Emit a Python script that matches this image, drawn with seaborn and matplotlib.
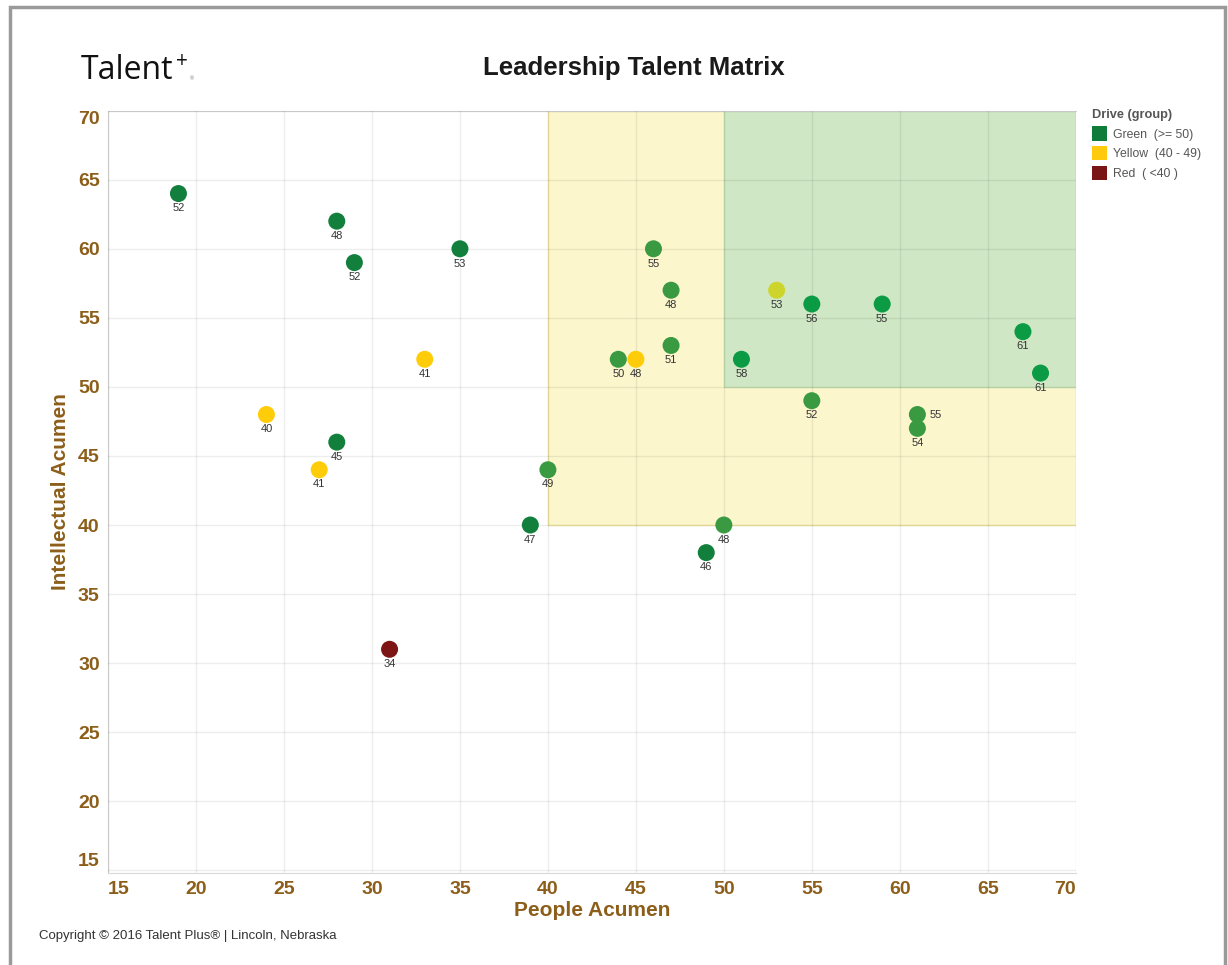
import matplotlib
matplotlib.use('Agg')
import matplotlib.pyplot as plt
import matplotlib.patches as mpatches
import numpy as np
import pandas as pd
import seaborn as sns

# data
people = [19, 28, 29, 35, 33, 24, 28, 27, 31, 39, 40, 46, 47, 47, 44, 45, 50, 49,
          51, 53, 55, 59, 55, 61, 61, 67, 68]
intellect = [64, 62, 59, 60, 52, 48, 46, 44, 31, 40, 44, 60, 57, 53, 52, 52, 40, 38,
             52, 57, 56, 56, 49, 48, 47, 54, 51]
drive = [52, 48, 52, 53, 41, 40, 45, 41, 34, 47, 49, 55, 48, 51, 50, 48, 48, 46,
         58, 53, 56, 55, 52, 55, 54, 61, 61]
shade = ['dark', 'dark', 'dark', 'dark', 'yellow', 'yellow', 'dark', 'yellow', 'red',
         'dark', 'mid', 'mid', 'mid', 'mid', 'mid', 'yellow', 'mid', 'dark',
         'bright', 'lime', 'bright', 'bright', 'mid', 'mid', 'mid', 'bright', 'bright']
label_side = ['below'] * 23 + ['right'] + ['below'] * 3

groups = ['Green  (>= 50)', 'Yellow  (40 - 49)', 'Red  ( <40 )']
group_colors = ['#107c3a', '#ffc90e', '#7a1515']

df = pd.DataFrame({'people': people, 'intellect': intellect, 'drive': drive, 'shade': shade})
palette = {'dark': '#12803c', 'mid': '#3a9a41', 'bright': '#0b9b45',
           'yellow': '#ffcc0a', 'lime': '#cdd52c', 'red': '#7d1515'}

brown = '#8c5e1a'
plt.rcParams['font.family'] = ['Liberation Sans', 'DejaVu Sans']

fig = plt.figure(figsize=(12.28, 9.65), dpi=100)
ax = fig.add_axes([0.088, 0.0953, 0.788, 0.790])

# quadrant shading
ax.add_patch(mpatches.Rectangle((40, 40), 30, 30, facecolor='#fcf6cd', edgecolor='#efe7a0',
                                lw=1, zorder=0))
ax.add_patch(mpatches.Rectangle((50, 50), 20, 20, facecolor='#d0e7c5', edgecolor='#c3e0b0',
                                lw=1, zorder=0.1))

sns.scatterplot(data=df, x='people', y='intellect', hue='shade', palette=palette,
                s=150, edgecolor='none', legend=False, ax=ax, zorder=3)

for x, y, d, side in zip(people, intellect, drive, label_side):
    if side == 'right':
        ax.annotate(str(d), (x, y), xytext=(9, 0), textcoords='offset points',
                    ha='left', va='center', fontsize=8, color='#333333', zorder=4)
    else:
        ax.annotate(str(d), (x, y), xytext=(0, -7), textcoords='offset points',
                    ha='center', va='top', fontsize=8, color='#333333', zorder=4)

ax.set_xlim(15, 70)
ax.set_ylim(14.8, 70)
ax.set_xticks(np.arange(15, 71, 5))
ax.set_yticks(np.arange(15, 71, 5))
ax.grid(True, color='black', alpha=0.07, lw=1)
ax.set_axisbelow(False)
for ln in ax.get_xgridlines() + ax.get_ygridlines():
    ln.set_zorder(0.5)
for side in ['top', 'left', 'bottom']:
    ax.spines[side].set_color('#d9d9d9')
ax.spines['right'].set_visible(False)
ax.tick_params(length=0, labelsize=14, labelcolor=brown, pad=6)
for t in ax.get_xticklabels() + ax.get_yticklabels():
    t.set_fontweight('bold')
xt = ax.get_xticklabels()
xt[0].set_horizontalalignment('left')
xt[-1].set_horizontalalignment('right')
yt = ax.get_yticklabels()
yt[0].set_verticalalignment('bottom')
yt[-1].set_verticalalignment('top')
ax.set_xlabel('People Acumen', fontsize=15, fontweight='bold', color=brown, labelpad=2)
ax.set_ylabel('Intellectual Acumen', fontsize=15, fontweight='bold', color=brown, labelpad=6)

# legend
handles = [mpatches.Patch(facecolor=c, edgecolor='none', label=g)
           for g, c in zip(groups, group_colors)]
leg = fig.legend(handles=handles, title='Drive (group)', loc='upper left',
                 bbox_to_anchor=(0.882, 0.896), frameon=False, fontsize=8.8,
                 title_fontsize=9.2, handlelength=1.25, handleheight=1.4,
                 handletextpad=0.5, labelspacing=0.45, borderpad=0.2)
leg.get_title().set_fontweight('bold')
leg.get_title().set_color('#555555')
leg._legend_box.align = 'left'
for t in leg.get_texts():
    t.set_color('#555555')

# header and footer
fig.text(0.516, 0.93, 'Leadership Talent Matrix', ha='center', va='center',
         fontsize=18.5, fontweight='bold', color='#1a1a1a')
fig.text(0.066, 0.927, 'Talent', ha='left', va='center', fontsize=23,
         family=['Open Sans', 'DejaVu Sans'], color='#111111')
fig.text(0.143, 0.936, '+', ha='left', va='center', fontsize=15,
         family=['Open Sans', 'DejaVu Sans'], color='#111111')
fig.text(0.155, 0.918, '\u00ae', ha='left', va='center', fontsize=4, color='#777777')
fig.text(0.032, 0.03, 'Copyright \u00a9 2016 Talent Plus\u00ae | Lincoln, Nebraska',
         ha='left', va='center', fontsize=9.5, color='#333333')

# outer frame
fig.add_artist(mpatches.Rectangle((0.0085, -0.05), 0.989, 1.043, transform=fig.transFigure,
                                  fill=False, edgecolor='#9a9a9a', lw=2.5))

fig.savefig('out.png', dpi=100)
